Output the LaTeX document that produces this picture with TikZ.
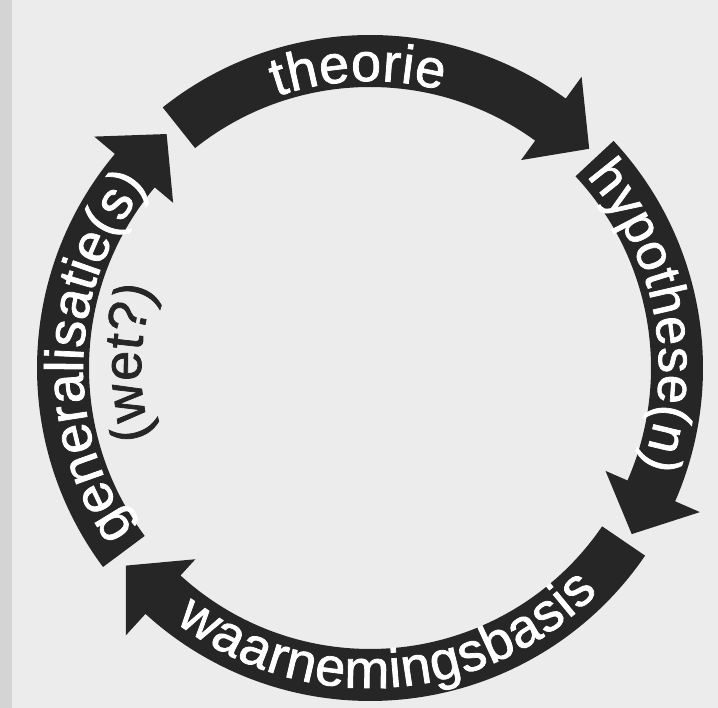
\documentclass[tikz,border=0pt]{standalone}
\usepackage{fontspec}
\newfontfamily\helv{Liberation Sans}[FakeBold=1.4]
\usetikzlibrary{decorations.text}
\newcommand\labfont{\helv\fontsize{54}{60}\selectfont}
\newcommand\hypfont{\helv\fontsize{52}{60}\selectfont}
\newcommand\wetfont{\helv\fontsize{54}{60}\selectfont}
\definecolor{bgcol}{RGB}{236,236,236}
\definecolor{edgecol}{RGB}{212,212,212}
\definecolor{arrowcol}{RGB}{38,38,38}
\tikzset{
  cyclearrow/.style={fill=arrowcol},
  arclabel/.style={decorate, decoration={text along path, text align=fit to path, text color=white}},
}
\begin{document}
\begin{tikzpicture}[x=1pt,y=1pt]
\fill[bgcol] (0,0) rectangle (718,708);
\fill[edgecol] (0,0) rectangle (12,708);
\useasboundingbox (0,0) rectangle (718,708);
\begin{scope}[shift={(370,340)}]
  % theorie
  \fill[cyclearrow] (128.5:333) arc[start angle=128.5, end angle=54, radius=333]
    -- (54:360) -- (45:310) -- (54:257) -- (54:281)
    arc[start angle=54, end angle=128.5, radius=281] -- cycle;
  % hypothese(n)
  \fill[cyclearrow] (43:333) arc[start angle=43, end angle=-23.6, radius=333]
    -- (-23.6:360) -- (-32.4:310) -- (-23.6:257) -- (-23.6:281)
    arc[start angle=-23.6, end angle=43, radius=281] -- cycle;
  % waarnemingsbasis
  \fill[cyclearrow] (-34.3:333) arc[start angle=-34.3, end angle=-132.4, radius=333]
    -- (-132.4:362) -- (-141:314) -- (-132.4:259) -- (-132.4:281)
    arc[start angle=-132.4, end angle=-34.3, radius=281] -- cycle;
  % generalisatie(s)
  \fill[cyclearrow] (216.7:333) arc[start angle=216.7, end angle=140, radius=333]
    -- (140:360) -- (131:310) -- (140:257) -- (140:281)
    arc[start angle=140, end angle=216.7, radius=281] -- cycle;

  \path[arclabel, decoration={text={|\labfont|theorie}}]
    (109:287) arc[start angle=109, end angle=75.5, radius=287];
  \path[arclabel, decoration={text={|\hypfont|hypothese(n)}}]
    (41.5:289) arc[start angle=41.5, end angle=-19.8, radius=289];
  \path[arclabel, decoration={text={|\labfont|waarnemingsbasis}}]
    (232.5:320) arc[start angle=232.5, end angle=315.5, radius=320];
  \path[arclabel, decoration={text={|\labfont|generalisatie(s)}}]
    (214.5:287) arc[start angle=214.5, end angle=142.5, radius=287];
  \path[decorate, decoration={text along path, text align=fit to path, text color=arrowcol, text={|\wetfont|(wet?)}}]
    (197.5:229) arc[start angle=197.5, end angle=160.5, radius=229];
\end{scope}
\end{tikzpicture}
\end{document}
